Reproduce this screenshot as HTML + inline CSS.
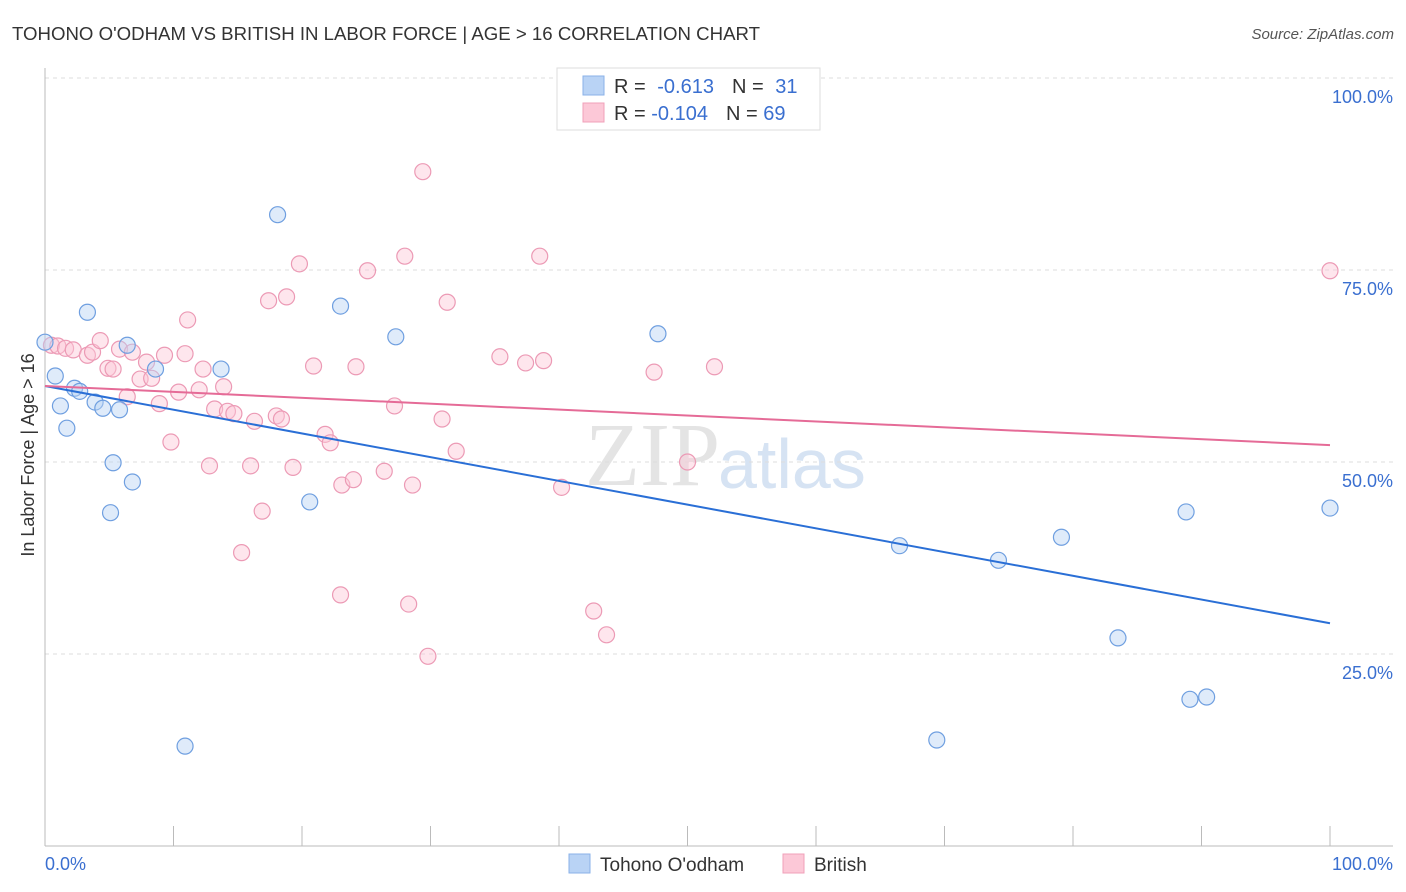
<!DOCTYPE html>
<html><head><meta charset="utf-8"><style>
body{margin:0;background:#fff;font-family:"Liberation Sans",sans-serif;}
svg{display:block}
</style></head><body>
<svg id="chart" width="1406" height="892">
<text x="12" y="40" font-size="18" fill="#333" textLength="748" lengthAdjust="spacingAndGlyphs">TOHONO O'ODHAM VS BRITISH IN LABOR FORCE | AGE &gt; 16 CORRELATION CHART</text>
<text x="1394" y="39" font-size="15" fill="#555" font-style="italic" text-anchor="end">Source: ZipAtlas.com</text>
<text x="720" y="485" font-size="90" fill="#e4e4e4" text-anchor="end" font-family="Liberation Serif">ZIP</text>
<text x="718" y="488" font-size="70" fill="#d6e3f3">atlas</text>
<g id="grid"></g>
<g id="marks"></g>
<text transform="translate(34,455) rotate(-90)" font-size="18" fill="#333" text-anchor="middle">In Labor Force | Age &gt; 16</text>
<text x="45" y="870" font-size="18" fill="#3a6fd0">0.0%</text>
<text x="1393" y="870" font-size="18" fill="#3a6fd0" text-anchor="end">100.0%</text>
<g>
<rect x="557" y="68" width="263" height="62" fill="#fff" stroke="#ddd"/>
<rect x="583" y="76" width="21" height="19" fill="#b9d3f5" stroke="#8ab2e8"/>
<rect x="583" y="103" width="21" height="19" fill="#fcc8d7" stroke="#f0a0ba"/>
<text x="614" y="93" font-size="20" fill="#333">R = <tspan fill="#3a6fd0" dx="6">-0.613</tspan><tspan dx="18" fill="#333">N = </tspan><tspan fill="#3a6fd0" dx="6">31</tspan></text>
<text x="614" y="120" font-size="20" fill="#333">R = <tspan fill="#3a6fd0">-0.104</tspan><tspan dx="18" fill="#333">N = </tspan><tspan fill="#3a6fd0">69</tspan></text>
</g>
<g>
<rect x="569" y="854" width="21" height="19" fill="#b9d3f5" stroke="#8ab2e8"/>
<text x="600" y="871" font-size="19" fill="#333">Tohono O'odham</text>
<rect x="783" y="854" width="21" height="19" fill="#fcc8d7" stroke="#f0a0ba"/>
<text x="814" y="871" font-size="19" fill="#333">British</text>
</g>
</svg>
<script>
const yTicks=[25,50,75,100];
const yTickLabels=["25.0%","50.0%","75.0%","100.0%"];
const xTicks=[10,20,30,40,50,60,70,80,90,100];
const tohonoX=[0,0.8,1.2,1.7,2.3,2.7,3.3,3.9,4.5,5.3,5.1,5.8,6.4,6.8,8.6,10.9,13.7,18.1,20.6,23.0,27.3,47.7,66.5,69.4,74.2,79.1,83.5,88.8,89.1,90.4,100];
const tohonoY=[65.6,61.2,57.3,54.4,59.6,59.2,69.5,57.8,57.0,49.9,43.4,56.8,65.2,47.4,62.1,13.0,62.1,82.2,44.8,70.3,66.3,66.7,39.1,13.8,37.2,40.2,27.1,43.5,19.1,19.4,44.0];
const britishX=[0.5,1.0,1.6,2.2,3.3,3.7,4.3,4.9,5.3,5.8,6.4,6.8,7.4,7.9,8.3,8.9,9.3,9.8,10.4,10.9,11.1,12.0,12.3,12.8,13.2,13.9,14.2,14.7,15.3,16.0,16.3,16.9,17.4,18.0,18.4,18.8,19.3,19.8,20.9,21.8,22.2,23.0,23.1,24.0,24.2,25.1,26.4,27.2,28.0,28.3,28.6,29.4,29.8,30.9,31.3,32.0,35.4,37.4,38.5,38.8,40.2,42.7,43.7,47.4,50.0,52.1,100];
const britishY=[65.2,65.1,64.8,64.6,63.9,64.3,65.8,62.2,62.1,64.7,58.5,64.3,60.8,63.0,60.9,57.6,63.9,52.6,59.1,64.1,68.5,59.4,62.1,49.5,56.9,59.8,56.6,56.3,38.2,49.5,55.3,43.6,71.0,56.0,55.6,71.5,49.3,75.8,62.5,53.6,52.5,32.7,47.0,47.7,62.4,74.9,48.8,57.3,76.8,31.5,47.0,87.8,24.7,55.6,70.8,51.4,63.7,62.9,76.8,63.2,46.7,30.6,27.5,61.7,50.0,62.4,74.9];
const tohonoTrend=[59.9,29.0];
const britishTrend=[59.9,52.2];
const NS="http://www.w3.org/2000/svg";
const sx=v=>45+v*12.85, sy=v=>846-v*7.68;
function mk(tag,attrs,parent){const e=document.createElementNS(NS,tag);for(const k in attrs)e.setAttribute(k,attrs[k]);parent.appendChild(e);return e;}
const grid=document.getElementById('grid'), marks=document.getElementById('marks');
yTicks.forEach((t,i)=>{
  const l=mk('line',{x1:45,x2:1393,y1:sy(t),y2:sy(t),stroke:'#ddd','stroke-dasharray':'4,4'},grid);
  
  
  const tx=mk('text',{x:1393,y:sy(t)+25,'font-size':18,fill:'#3a6fd0','text-anchor':'end'},grid);
  tx.textContent=yTickLabels[i];
  
  
});
const ax=mk('line',{x1:45,x2:1393,y1:846,y2:846,stroke:'#bbb'},grid);


const ay=mk('line',{x1:45,x2:45,y1:68,y2:846,stroke:'#bbb'},grid);


xTicks.forEach(t=>{
  const l=mk('line',{x1:sx(t),x2:sx(t),y1:826,y2:846,stroke:'#bbb'},grid);
  
  
});
function dots(xs,ys,fill,stroke,name){
  xs.forEach((x,i)=>{
    const c=mk('circle',{cx:sx(x),cy:sy(ys[i]),r:8,fill:fill,'fill-opacity':0.45,stroke:stroke,'stroke-width':1.2},marks);
    
    
  });
}
dots(britishX,britishY,'#fcc8d7','#ec9ab5','british-point');
dots(tohonoX,tohonoY,'#b9d3f5','#6f9fe0','tohono-point');
const t1=mk('line',{x1:sx(0),x2:sx(100),y1:sy(tohonoTrend[0]),y2:sy(tohonoTrend[1]),stroke:'#2a6fd6','stroke-width':2},marks);


const t2=mk('line',{x1:sx(0),x2:sx(100),y1:sy(britishTrend[0]),y2:sy(britishTrend[1]),stroke:'#e56b97','stroke-width':2},marks);


</script>
</body></html>
